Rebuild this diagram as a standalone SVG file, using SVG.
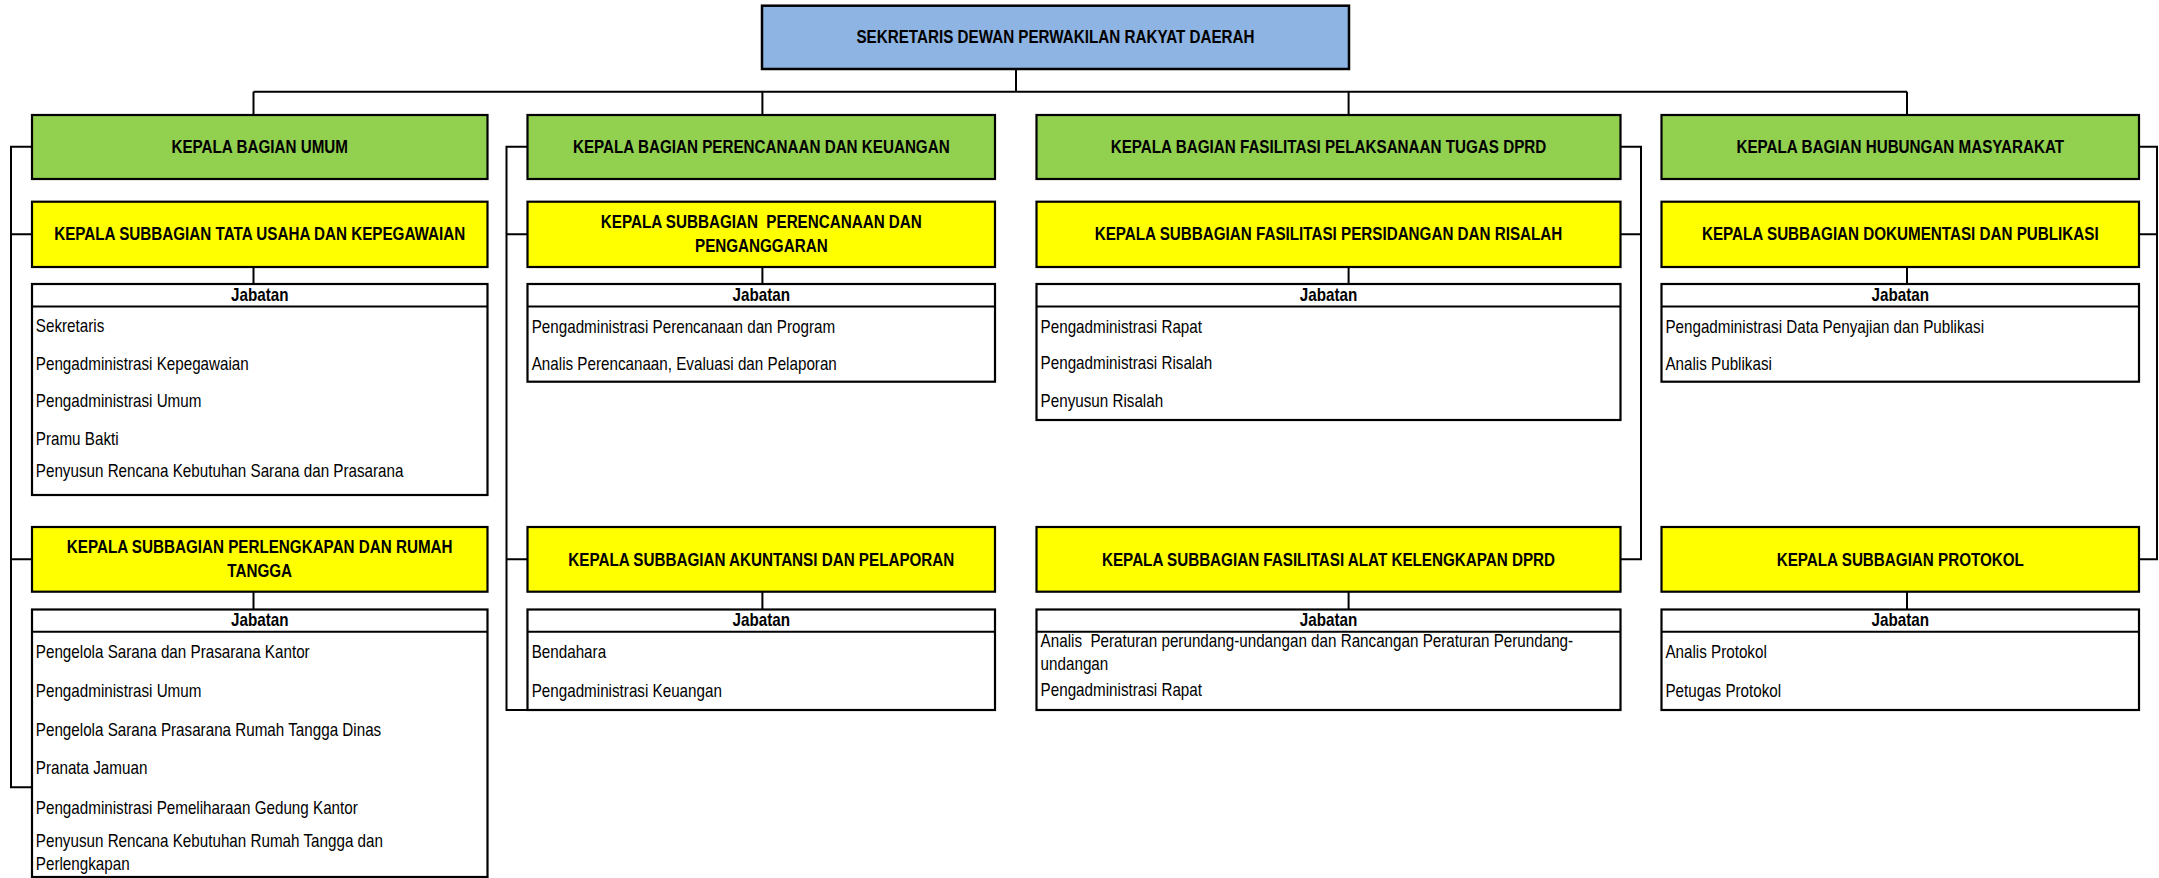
<svg xmlns="http://www.w3.org/2000/svg" width="2159" height="878" viewBox="0 0 2159 878">
<style>
.bg{fill:#ffffff}
.top{fill:#8DB4E2;stroke:#000;stroke-width:2.5}
.g{fill:#92D050;stroke:#000;stroke-width:2.2}
.y{fill:#FFFF00;stroke:#000;stroke-width:2.2}
.w{fill:#ffffff;stroke:#000;stroke-width:2.2}
.c{fill:none;stroke:#000;stroke-width:2}
.b{font-family:"Liberation Sans",Arial,sans-serif;font-weight:bold;font-size:18px;text-anchor:middle;fill:#000}
.t{font-family:"Liberation Sans",Arial,sans-serif;font-size:18px;text-anchor:start;fill:#000}
.pre{white-space:pre}
</style>
<rect class="bg" x="0" y="0" width="2159" height="878"/>

<g id="connectors">
  <path class="c" d="M1016,69 V91.7 M253.5,91.7 H1907 M253.5,91.7 V115 M762.4,91.7 V115 M1348.6,91.7 V115 M1907,91.7 V115"/>
  <path class="c" d="M253.5,267 V284 M762.4,267 V284 M1348.6,267 V284 M1907,267 V284"/>
  <path class="c" d="M253.5,591.7 V609.5 M762.4,591.7 V609.5 M1348.6,591.7 V609.5 M1907,591.7 V609.5"/>
  <path class="c" d="M32,146.7 H11 V787.3 H32 M11,234.3 H32 M11,559.3 H32"/>
  <path class="c" d="M527.5,146.7 H506.5 V710 H527.5 M506.5,234.3 H527.5 M506.5,559.3 H527.5"/>
  <path class="c" d="M1620.5,146.7 H1641 V559.3 H1620.5 M1641,234.3 H1620.5"/>
  <path class="c" d="M2139,146.7 H2157 V559.3 H2139 M2157,234.3 H2139"/>
</g>

<g id="sekretaris">
  <rect class="top" x="762" y="5.7" width="587" height="63.3"/>
  <text class="b" transform="translate(1055.5,43.3) scale(0.845,1)">SEKRETARIS DEWAN PERWAKILAN RAKYAT DAERAH</text>
</g>

<g id="bagian-umum">
  <rect class="g" x="32" y="115" width="455.5" height="64"/>
  <text class="b" transform="translate(259.7,152.7) scale(0.845,1)">KEPALA BAGIAN UMUM</text>
</g>
<g id="bagian-perencanaan">
  <rect class="g" x="527.5" y="115" width="467.5" height="64"/>
  <text class="b" transform="translate(761.3,152.7) scale(0.845,1)">KEPALA BAGIAN PERENCANAAN DAN KEUANGAN</text>
</g>
<g id="bagian-fasilitasi">
  <rect class="g" x="1036.5" y="115" width="584" height="64"/>
  <text class="b" transform="translate(1328.5,152.7) scale(0.845,1)">KEPALA BAGIAN FASILITASI PELAKSANAAN TUGAS DPRD</text>
</g>
<g id="bagian-humas">
  <rect class="g" x="1661.5" y="115" width="477.5" height="64"/>
  <text class="b" transform="translate(1900.3,152.7) scale(0.845,1)">KEPALA BAGIAN HUBUNGAN MASYARAKAT</text>
</g>

<g id="sub-tata-usaha">
  <rect class="y" x="32" y="201.7" width="455.5" height="65.3"/>
  <text class="b" transform="translate(259.7,240) scale(0.845,1)">KEPALA SUBBAGIAN TATA USAHA DAN KEPEGAWAIAN</text>
</g>
<g id="sub-perencanaan">
  <rect class="y" x="527.5" y="201.7" width="467.5" height="65.3"/>
  <text class="b pre" transform="translate(761.3,228.3) scale(0.845,1)">KEPALA SUBBAGIAN  PERENCANAAN DAN</text>
  <text class="b" transform="translate(761.3,252.3) scale(0.845,1)">PENGANGGARAN</text>
</g>
<g id="sub-persidangan">
  <rect class="y" x="1036.5" y="201.7" width="584" height="65.3"/>
  <text class="b" transform="translate(1328.5,240) scale(0.845,1)">KEPALA SUBBAGIAN FASILITASI PERSIDANGAN DAN RISALAH</text>
</g>
<g id="sub-dokumentasi">
  <rect class="y" x="1661.5" y="201.7" width="477.5" height="65.3"/>
  <text class="b" transform="translate(1900.3,240) scale(0.845,1)">KEPALA SUBBAGIAN DOKUMENTASI DAN PUBLIKASI</text>
</g>

<g id="jabatan-tata-usaha">
  <rect class="w" x="32" y="284" width="455.5" height="211"/>
  <path class="c" d="M32,306.5 H487.5"/>
  <text class="b" transform="translate(259.7,300.7) scale(0.845,1)">Jabatan</text>
  <text class="t" transform="translate(35.8,332) scale(0.845,1)">Sekretaris</text>
  <text class="t" transform="translate(35.8,370) scale(0.845,1)">Pengadministrasi Kepegawaian</text>
  <text class="t" transform="translate(35.8,407.3) scale(0.845,1)">Pengadministrasi Umum</text>
  <text class="t" transform="translate(35.8,445) scale(0.845,1)">Pramu Bakti</text>
  <text class="t" transform="translate(35.8,476.7) scale(0.845,1)">Penyusun Rencana Kebutuhan Sarana dan Prasarana</text>
</g>
<g id="jabatan-perencanaan">
  <rect class="w" x="527.5" y="284" width="467.5" height="97.7"/>
  <path class="c" d="M527.5,306.5 H995"/>
  <text class="b" transform="translate(761.3,300.7) scale(0.845,1)">Jabatan</text>
  <text class="t" transform="translate(531.7,332.7) scale(0.845,1)">Pengadministrasi Perencanaan dan Program</text>
  <text class="t" transform="translate(531.7,370) scale(0.845,1)">Analis Perencanaan, Evaluasi dan Pelaporan</text>
</g>
<g id="jabatan-persidangan">
  <rect class="w" x="1036.5" y="284" width="584" height="136"/>
  <path class="c" d="M1036.5,306.5 H1620.5"/>
  <text class="b" transform="translate(1328.5,300.7) scale(0.845,1)">Jabatan</text>
  <text class="t" transform="translate(1040.6,333.3) scale(0.845,1)">Pengadministrasi Rapat</text>
  <text class="t" transform="translate(1040.6,369.3) scale(0.845,1)">Pengadministrasi Risalah</text>
  <text class="t" transform="translate(1040.6,407.3) scale(0.845,1)">Penyusun Risalah</text>
</g>
<g id="jabatan-dokumentasi">
  <rect class="w" x="1661.5" y="284" width="477.5" height="97.7"/>
  <path class="c" d="M1661.5,306.5 H2139"/>
  <text class="b" transform="translate(1900.3,300.7) scale(0.845,1)">Jabatan</text>
  <text class="t" transform="translate(1665.4,332.7) scale(0.845,1)">Pengadministrasi Data Penyajian dan Publikasi</text>
  <text class="t" transform="translate(1665.4,370) scale(0.845,1)">Analis Publikasi</text>
</g>

<g id="sub-perlengkapan">
  <rect class="y" x="32" y="527" width="455.5" height="64.7"/>
  <text class="b" transform="translate(259.7,553.3) scale(0.845,1)">KEPALA SUBBAGIAN PERLENGKAPAN DAN RUMAH</text>
  <text class="b" transform="translate(259.7,576.7) scale(0.845,1)">TANGGA</text>
</g>
<g id="sub-akuntansi">
  <rect class="y" x="527.5" y="527" width="467.5" height="64.7"/>
  <text class="b" transform="translate(761.3,565.7) scale(0.845,1)">KEPALA SUBBAGIAN AKUNTANSI DAN PELAPORAN</text>
</g>
<g id="sub-alat-kelengkapan">
  <rect class="y" x="1036.5" y="527" width="584" height="64.7"/>
  <text class="b" transform="translate(1328.5,565.7) scale(0.845,1)">KEPALA SUBBAGIAN FASILITASI ALAT KELENGKAPAN DPRD</text>
</g>
<g id="sub-protokol">
  <rect class="y" x="1661.5" y="527" width="477.5" height="64.7"/>
  <text class="b" transform="translate(1900.3,565.7) scale(0.845,1)">KEPALA SUBBAGIAN PROTOKOL</text>
</g>

<g id="jabatan-perlengkapan">
  <rect class="w" x="32" y="609.5" width="455.5" height="267.5"/>
  <path class="c" d="M32,631.7 H487.5"/>
  <text class="b" transform="translate(259.7,626.3) scale(0.845,1)">Jabatan</text>
  <text class="t" transform="translate(35.8,658.3) scale(0.845,1)">Pengelola Sarana dan Prasarana Kantor</text>
  <text class="t" transform="translate(35.8,697.3) scale(0.845,1)">Pengadministrasi Umum</text>
  <text class="t" transform="translate(35.8,736) scale(0.845,1)">Pengelola Sarana Prasarana Rumah Tangga Dinas</text>
  <text class="t" transform="translate(35.8,774.3) scale(0.845,1)">Pranata Jamuan</text>
  <text class="t" transform="translate(35.8,814) scale(0.845,1)">Pengadministrasi Pemeliharaan Gedung Kantor</text>
  <text class="t" transform="translate(35.8,846.7) scale(0.845,1)">Penyusun Rencana Kebutuhan Rumah Tangga dan</text>
  <text class="t" transform="translate(35.8,870) scale(0.845,1)">Perlengkapan</text>
</g>
<g id="jabatan-akuntansi">
  <rect class="w" x="527.5" y="609.5" width="467.5" height="100.5"/>
  <path class="c" d="M527.5,631.7 H995"/>
  <text class="b" transform="translate(761.3,626.3) scale(0.845,1)">Jabatan</text>
  <text class="t" transform="translate(531.7,658.3) scale(0.845,1)">Bendahara</text>
  <text class="t" transform="translate(531.7,696.7) scale(0.845,1)">Pengadministrasi Keuangan</text>
</g>
<g id="jabatan-alat-kelengkapan">
  <rect class="w" x="1036.5" y="609.5" width="584" height="100.5"/>
  <path class="c" d="M1036.5,631.7 H1620.5"/>
  <text class="b" transform="translate(1328.5,626.3) scale(0.845,1)">Jabatan</text>
  <text class="t pre" transform="translate(1040.6,646.7) scale(0.845,1)">Analis  Peraturan perundang-undangan dan Rancangan Peraturan Perundang-</text>
  <text class="t" transform="translate(1040.6,670) scale(0.845,1)">undangan</text>
  <text class="t" transform="translate(1040.6,696) scale(0.845,1)">Pengadministrasi Rapat</text>
</g>
<g id="jabatan-protokol">
  <rect class="w" x="1661.5" y="609.5" width="477.5" height="100.5"/>
  <path class="c" d="M1661.5,631.7 H2139"/>
  <text class="b" transform="translate(1900.3,626.3) scale(0.845,1)">Jabatan</text>
  <text class="t" transform="translate(1665.4,658.3) scale(0.845,1)">Analis Protokol</text>
  <text class="t" transform="translate(1665.4,696.7) scale(0.845,1)">Petugas Protokol</text>
</g>
</svg>
